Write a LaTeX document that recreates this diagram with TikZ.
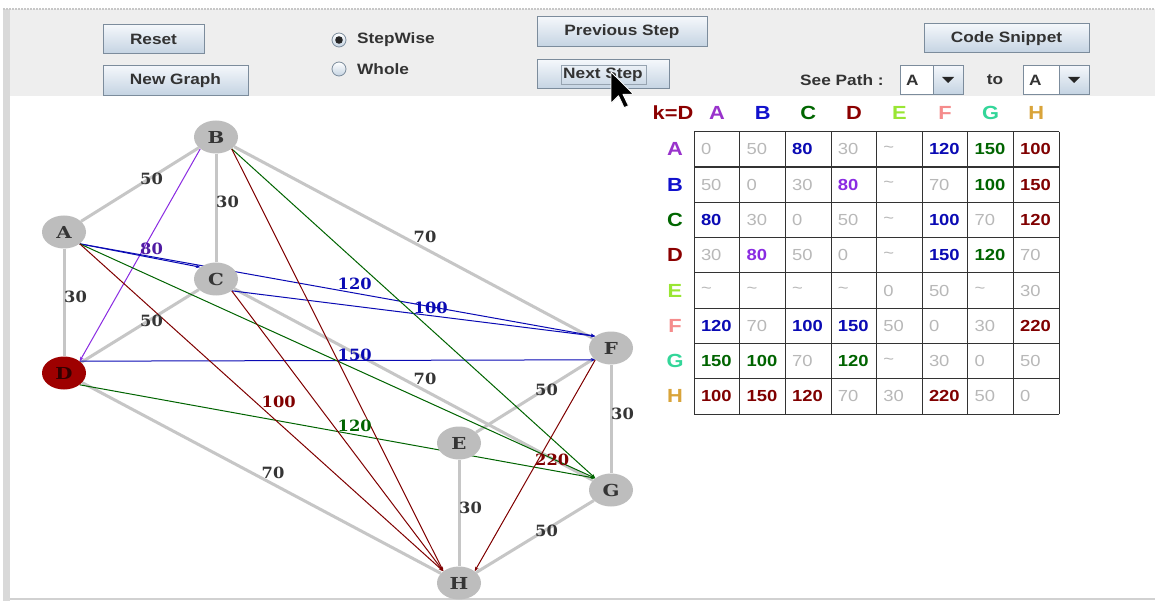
\documentclass[tikz,border=0pt]{standalone}
\usepackage{fontspec}
\setmainfont{Liberation Sans}
\newfontfamily\uif[FakeStretch=1.15]{Liberation Sans}
\newfontfamily\nodef[FakeStretch=1.2]{DejaVu Serif}
\newfontfamily\serf[FakeStretch=1.05]{DejaVu Serif}
\usetikzlibrary{shapes.geometric,arrows.meta,calc}
\pgfdeclarelayer{bg}\pgfdeclarelayer{edges}
\pgfsetlayers{bg,edges,main}
\definecolor{panel}{HTML}{EEEEEE}
\definecolor{nodegray}{HTML}{BDBDBD}
\definecolor{edgegray}{HTML}{C6C6C6}
\definecolor{lblgray}{HTML}{353535}
\definecolor{btnborder}{HTML}{7C8C9C}
\definecolor{btntop}{HTML}{F4F7FB}
\definecolor{btnbot}{HTML}{C4D3E2}
\definecolor{btntext}{HTML}{333333}
\definecolor{cpurple}{HTML}{8A2BE2}
\definecolor{cblue}{HTML}{0A0AB4}
\definecolor{cgreen}{HTML}{006400}
\definecolor{cred}{HTML}{800000}
\definecolor{tgray}{HTML}{B8B8B8}
\definecolor{hA}{HTML}{9933CC}
\definecolor{hB}{HTML}{1111CC}
\definecolor{hC}{HTML}{006600}
\definecolor{hD}{HTML}{8B0000}
\definecolor{hE}{HTML}{99E633}
\definecolor{hF}{HTML}{F58C8C}
\definecolor{hG}{HTML}{33D699}
\definecolor{hH}{HTML}{D9A43A}
\definecolor{dfill}{HTML}{9E0000}
\tikzset{
  uibtn/.style={draw=btnborder, line width=1pt, top color=btntop, bottom color=btnbot,
    font=\uif\bfseries\fontsize{15}{18}\selectfont, text=btntext, inner sep=0pt},
  uitext/.style={font=\uif\bfseries\fontsize{15}{18}\selectfont, text=btntext, inner sep=0pt},
  radio/.style={circle, draw=btnborder, line width=0.8pt, top color=white, bottom color=btnbot, minimum size=14pt, inner sep=0pt},
  vert/.style={ellipse, fill=nodegray, minimum width=44pt, minimum height=33pt, inner sep=0pt,
    font=\nodef\bfseries\fontsize{16.5}{18}\selectfont, text=lblgray},
  gedge/.style={draw=edgegray, line width=3pt},
  pedge/.style={line width=1pt, -{Stealth[length=4.5pt,width=3.5pt]}},
  elbl/.style={anchor=base west, inner sep=0pt, font=\serf\bfseries\fontsize{15.5}{18}\selectfont},
  hdr/.style={inner sep=0pt, font=\uif\bfseries\fontsize{19}{20}\selectfont},
  cellv/.style={anchor=west, inner sep=0pt, font=\uif\bfseries\fontsize{16}{18}\selectfont},
  cg/.style={text=tgray, font=\uif\fontsize{16}{18}\selectfont},
  cb/.style={text=cblue},
  cn/.style={text=cgreen},
  cr/.style={text=cred},
  cp/.style={text=cpurple},
}
\begin{document}
\begin{tikzpicture}[x=1pt,y=-1pt]
\useasboundingbox (0,0) rectangle (1155,601);
\begin{pgfonlayer}{bg}
\fill[white] (0,0) rectangle (1155,601);
\fill[panel] (10,9) rectangle (1155,96);
\fill[black!15] (3,9) rectangle (10,601);
\draw[black!22, line width=1.5pt, dash pattern=on 2pt off 1pt] (3,9) -- (1155,9);
\draw[black!18, line width=1.5pt] (10,599) -- (1155,599);
\end{pgfonlayer}

% toolbar
\node[uibtn, minimum width=101pt, minimum height=29pt] (reset) at (153.5,39.5) {Reset};
\node[uibtn, minimum width=145pt, minimum height=30pt] (newg) at (175.5,80.5) {New Graph};
\node[radio] (r1) at (339,40) {};
\fill[black!85] (r1.center) circle (3.8pt);
\node[radio] (r2) at (339,69) {};
\node[uitext, anchor=west] (r1t) at (357,40) {StepWise};
\node[uitext, anchor=west] (r2t) at (357,69) {Whole};
\node[uibtn, minimum width=170pt, minimum height=30pt] (prev) at (622,32) {Previous Step};
\node[uibtn, minimum width=132pt, minimum height=29pt] (next) at (603,74.5) {Next Step};
\draw[btnborder!80, line width=0.8pt] (561,65) rectangle (646,84);
\node[uibtn, minimum width=165pt, minimum height=29pt] (code) at (1006.5,38.5) {Code Snippet};
\node[uitext, anchor=west] (seep) at (800,80) {See Path :};
\draw[btnborder, line width=1pt, fill=white] (900,65.5) rectangle (963,94.5);
\draw[btnborder, line width=1pt, top color=btntop, bottom color=btnbot] (933,65.5) rectangle (963,94.5);
\fill[black!85] (942,77) -- (954,77) -- (948,83) -- cycle;
\node[uitext, anchor=west] (c1) at (906,80) {A};
\node[uitext] (tow) at (995,80) {to};
\draw[btnborder, line width=1pt, fill=white] (1023,65.5) rectangle (1089,94.5);
\draw[btnborder, line width=1pt, top color=btntop, bottom color=btnbot] (1059,65.5) rectangle (1089,94.5);
\fill[black!85] (1068,77) -- (1080,77) -- (1074,83) -- cycle;
\node[uitext, anchor=west] (c2) at (1029,80) {A};

% graph nodes
\node[vert] (A) at (64,232) {A};
\node[vert] (B) at (216,137) {B};
\node[vert] (C) at (216,279) {C};
\node[vert, fill=dfill, text=black!80!red] (D) at (64,373) {D};
\node[vert] (E) at (459,443) {E};
\node[vert] (F) at (611,348) {F};
\node[vert] (G) at (611,490) {G};
\node[vert] (H) at (459,583) {H};

\begin{pgfonlayer}{edges}
\foreach \u/\v in {A/B,B/C,A/D,C/D,B/F,C/G,D/H,E/F,F/G,E/H,G/H}
  \draw[gedge] (\u) -- (\v);
\draw[pedge, cpurple] (B.south west) -- (D.north east);
\draw[pedge, cblue] (A.south east) -- (C.north west);
\draw[pedge, cblue] (A.south east) -- (F.north west);
\draw[pedge, cblue] (C.south east) -- (F.north west);
\draw[pedge, cblue] (D.north east) -- (F.south west);
\draw[pedge, cgreen] (A.south east) -- (G.north west);
\draw[pedge, cgreen] (B.south east) -- (G.north west);
\draw[pedge, cgreen] (D.south east) -- (G.north west);
\draw[pedge, cred] (A.south east) -- (H.north west);
\draw[pedge, cred] (B.south east) -- (H.north west);
\draw[pedge, cred] (C.south east) -- (H.north west);
\draw[pedge, cred] (F.south west) -- (H.north east);
\end{pgfonlayer}

% gray edge labels
\foreach \u/\v/\w in {A/B/50,B/C/30,A/D/30,C/D/50,B/F/70,C/G/70,D/H/70,E/F/50,F/G/30,E/H/30,G/H/50}
  \node[elbl, text=lblgray] (l\u\v) at ($(\u)!0.5!(\v)$) {\w};
% path labels
\node[elbl, text=black!30!cpurple!80!cblue] (lBD) at ($(B)!0.5!(D)$) {80};
\node[elbl, text=cblue] (lAF) at ($(A)!0.5!(F)$) {120};
\node[elbl, text=cblue] (lCF) at ($(C)!0.5!(F)$) {100};
\node[elbl, text=cblue] (lDF) at ($(D)!0.5!(F)$) {150};
\node[elbl, text=cgreen] (lDG) at ($(D)!0.5!(G)$) {120};
\node[elbl, text=cred] (lAH) at ($(A)!0.5!(H)$) {100};
\node[elbl, text=cred] (lFH) at ($(F)!0.5!(H)$) {220};

% table
\foreach \i in {0,...,8} {
  \draw[black!80, line width=1.1pt] ({694.3+45.6*\i},131.7) -- ({694.3+45.6*\i},414.1);
  \draw[black!80, line width=1.1pt] (694.3,{131.7+35.3*\i}) -- (1059.1,{131.7+35.3*\i});
}
\node[hdr, text=hD] (kd) at (673,112.5) {k=D};
\foreach \l/\col [count=\c from 0] in {A/hA,B/hB,C/hC,D/hD,E/hE,F/hF,G/hG,H/hH} {
  \node[hdr, text=\col] (h\l) at ({717.1+45.6*\c},112.5) {\l};
  \node[hdr, text=\col] (r\l) at (675,{149.35+35.3*\c}) {\l};
}
\foreach \rowdata [count=\r from 0] in {
 {0/cg,50/cg,80/cb,30/cg,\textasciitilde/cg,120/cb,150/cn,100/cr},
 {50/cg,0/cg,30/cg,80/cp,\textasciitilde/cg,70/cg,100/cn,150/cr},
 {80/cb,30/cg,0/cg,50/cg,\textasciitilde/cg,100/cb,70/cg,120/cr},
 {30/cg,80/cp,50/cg,0/cg,\textasciitilde/cg,150/cb,120/cn,70/cg},
 {\textasciitilde/cg,\textasciitilde/cg,\textasciitilde/cg,\textasciitilde/cg,0/cg,50/cg,\textasciitilde/cg,30/cg},
 {120/cb,70/cg,100/cb,150/cb,50/cg,0/cg,30/cg,220/cr},
 {150/cn,100/cn,70/cg,120/cn,\textasciitilde/cg,30/cg,0/cg,50/cg},
 {100/cr,150/cr,120/cr,70/cg,30/cg,220/cr,50/cg,0/cg}} {
  \foreach \v/\s [count=\c from 0] in \rowdata {
    \node[cellv,\s] (t-\r-\c) at ({694.3+45.6*\c+6.5},{149.35+35.3*\r}) {\v};
  }
}

% mouse cursor
\begin{scope}[shift={(611,72)}, scale=1.25]
\draw[white, line width=0.8pt, fill=black, line join=round]
  (0,0) -- (0,25) -- (6,19) -- (10.5,28.5) -- (14,27) -- (9.5,17.8) -- (18,17.8) -- cycle;
\end{scope}
\end{tikzpicture}
\end{document}
